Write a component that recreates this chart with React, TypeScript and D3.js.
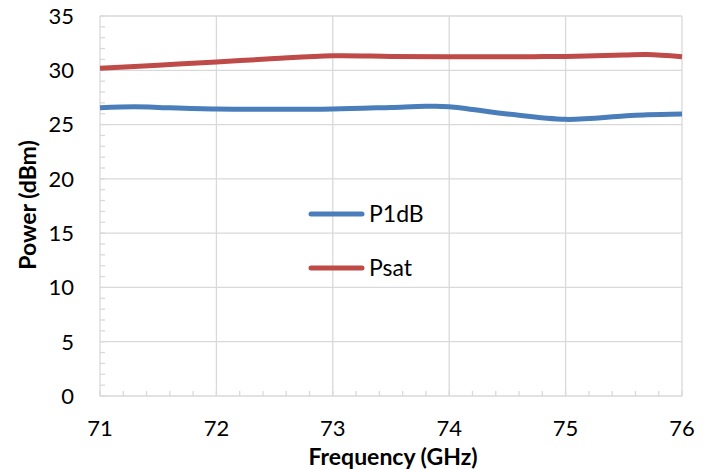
import React from "react";
import * as d3 from "d3";

const freq = [71, 71.3, 71.5, 72, 72.5, 73, 73.5, 73.8, 74, 74.5, 75, 75.5, 75.7, 76];
const p1dB = [26.56, 26.65, 26.58, 26.43, 26.4, 26.43, 26.58, 26.68, 26.65, 25.97, 25.48, 25.79, 25.9, 25.97];
const psatFreq = [71, 71.5, 72, 72.5, 73, 73.5, 74, 74.5, 75, 75.5, 75.7, 76];
const psat = [30.18, 30.47, 30.76, 31.08, 31.33, 31.28, 31.25, 31.25, 31.28, 31.4, 31.45, 31.25];
const xTicks = [71, 72, 73, 74, 75, 76];
const yTicks = [0, 5, 10, 15, 20, 25, 30, 35];
const series = [
  { name: "P1dB", x: freq, y: p1dB, color: "#4a7ebb" },
  { name: "Psat", x: psatFreq, y: psat, color: "#be4b48" },
];

const W = 713;
const H = 469;
const L = 100, R = 682, T = 16, B = 396;
const font = "Lato, 'Noto Sans', sans-serif";

export default function App() {
  const x = d3.scaleLinear().domain([71, 76]).range([L, R]);
  const y = d3.scaleLinear().domain([0, 35]).range([B, T]);
  const xMinor = d3.range(71, 76.0001, 0.2);
  const yMinor = d3.range(0, 35.0001, 1);
  const line = d3
    .line<[number, number]>()
    .x((d) => x(d[0]))
    .y((d) => y(d[1]))
    .curve(d3.curveCatmullRom.alpha(0.5));
  const grid = "#d9d9d9";
  return (
    <svg
      width={W}
      height={H}
      style={{ position: "absolute", left: 0, top: 0, background: "#fff" }}
    >
      <rect x={0} y={0} width={W} height={H} fill="#fff" />
      {yTicks.map((t) => (
        <line key={"gy" + t} x1={L} x2={R} y1={y(t)} y2={y(t)} stroke={grid} strokeWidth={1.3} />
      ))}
      {xTicks.map((t) => (
        <line key={"gx" + t} x1={x(t)} x2={x(t)} y1={T} y2={B} stroke={grid} strokeWidth={1.3} />
      ))}
      {yMinor.map((t, i) => (
        <line key={"my" + i} x1={L} x2={L + 5} y1={y(t)} y2={y(t)} stroke={grid} strokeWidth={1.3} />
      ))}
      {xMinor.map((t, i) => (
        <line key={"mx" + i} x1={x(t)} x2={x(t)} y1={B} y2={B - 5} stroke={grid} strokeWidth={1.3} />
      ))}
      {yTicks.map((t) => (
        <text
          key={"ly" + t}
          x={74}
          y={y(t)}
          dy="0.36em"
          textAnchor="end"
          fontFamily={font}
          fontSize={22}
          fill="#000"
        >
          {t}
        </text>
      ))}
      {xTicks.map((t) => (
        <text
          key={"lx" + t}
          x={x(t)}
          y={436}
          textAnchor="middle"
          fontFamily={font}
          fontSize={22}
          fill="#000"
        >
          {t}
        </text>
      ))}
      {series.map((s) => (
        <path
          key={s.name}
          d={line(s.x.map((v, i) => [v, s.y[i]] as [number, number])) || ""}
          fill="none"
          stroke={s.color}
          strokeWidth={5}
        />
      ))}
      {series.map((s, i) => (
        <g key={"lg" + s.name} transform={`translate(0, ${214 + i * 54})`}>
          <line x1={311} x2={362} y1={0} y2={0} stroke={s.color} strokeWidth={5} strokeLinecap="round" />
          <text x={369} y={0} dy="0.36em" fontFamily={font} fontSize={23} fill="#000">
            {s.name}
          </text>
        </g>
      ))}
      <text
        x={393}
        y={465}
        textAnchor="middle"
        fontFamily={font}
        fontWeight="bold"
        fontSize={23}
        fill="#000"
      >
        Frequency (GHz)
      </text>
      <text
        transform={`translate(36, 205) rotate(-90)`}
        textAnchor="middle"
        fontFamily={font}
        fontWeight="bold"
        fontSize={23}
        fill="#000"
      >
        Power (dBm)
      </text>
    </svg>
  );
}
